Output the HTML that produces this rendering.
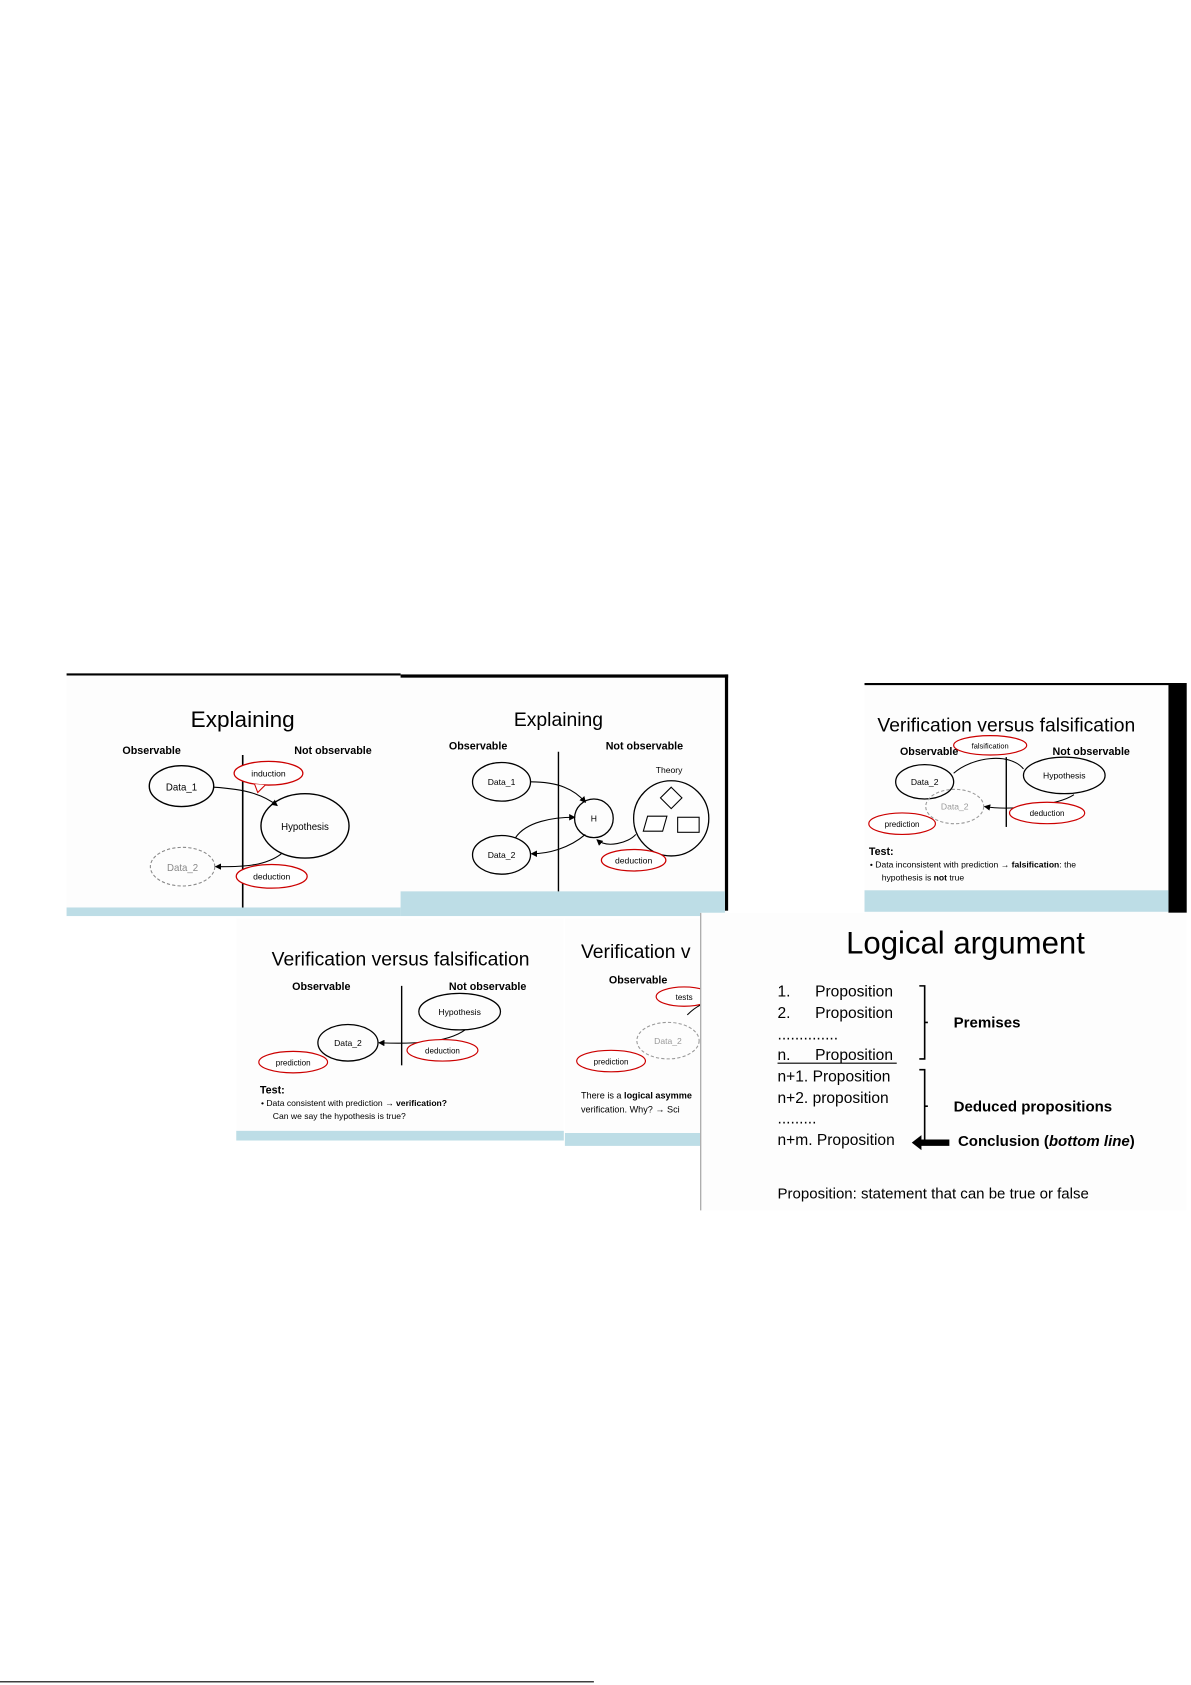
<!DOCTYPE html>
<html><head><meta charset="utf-8"><style>
html,body{margin:0;padding:0;background:#fff;}
svg{display:block;font-family:"Liberation Sans",sans-serif;}
.b{font-weight:bold;font-size:10px;}
.s{font-size:9px;}
.t{font-size:8px;}
</style></head><body>
<svg width="1191" height="1685" viewBox="0 0 1109 1569" preserveAspectRatio="none" xmlns="http://www.w3.org/2000/svg">
<defs><marker id="a" markerWidth="6" markerHeight="6" refX="5" refY="3" orient="auto"><path d="M0,0 L6,3 L0,6z" fill="#000"/></marker></defs>
<rect width="1109" height="1569" fill="#fff"/>

<!-- Slide A -->
<rect x="62" y="627" width="311" height="226" fill="#fdfdfd"/>
<line x1="62" y1="628" x2="373" y2="628" stroke="#000" stroke-width="2"/>
<rect x="62" y="845" width="311" height="8" fill="#bddde6"/>
<text x="226" y="677" font-size="21" text-anchor="middle">Explaining</text>
<text x="114" y="702" class="b">Observable</text>
<text x="274" y="702" class="b">Not observable</text>
<line x1="226" y1="703" x2="226" y2="845" stroke="#000" stroke-width="1.5"/>
<ellipse cx="169" cy="732" rx="30" ry="19" fill="none" stroke="#000" stroke-width="1.3"/>
<text x="169" y="736" class="s" text-anchor="middle">Data_1</text>
<ellipse cx="284" cy="769" rx="41" ry="30" fill="none" stroke="#000" stroke-width="1.3"/>
<text x="284" y="773" class="s" text-anchor="middle">Hypothesis</text>
<ellipse cx="170" cy="807" rx="30" ry="18" fill="none" stroke="#888" stroke-dasharray="3,2"/>
<text x="170" y="811" class="s" fill="#888" text-anchor="middle">Data_2</text>
<path d="M199,733 C230,735 245,740 258,750" fill="none" stroke="#000" marker-end="url(#a)"/>
<path d="M262,795 C245,808 220,807 201,807" fill="none" stroke="#000" marker-end="url(#a)"/>
<ellipse cx="250" cy="720" rx="32" ry="11" fill="#fff" stroke="#c00" stroke-width="1.2"/>
<path d="M237,730 L240,738 L247,731" fill="#fff" stroke="#c00"/>
<text x="250" y="723" class="t" text-anchor="middle">induction</text>
<ellipse cx="253" cy="816" rx="33" ry="11" fill="#fff" stroke="#c00" stroke-width="1.2"/>
<text x="253" y="819" class="t" text-anchor="middle">deduction</text>

<!-- Slide B -->
<rect x="373" y="628" width="304" height="225" fill="#fdfdfd"/>
<rect x="373" y="628" width="305" height="3" fill="#000"/>
<rect x="675" y="628" width="3" height="220" fill="#000"/>
<rect x="373" y="830" width="302" height="23" fill="#bddde6"/>
<text x="520" y="676" font-size="18" text-anchor="middle">Explaining</text>
<text x="418" y="698" class="b" font-size="9">Observable</text>
<text x="564" y="698" class="b" font-size="9">Not observable</text>
<line x1="520" y1="700" x2="520" y2="830" stroke="#000" stroke-width="1.3"/>
<ellipse cx="467" cy="728" rx="27" ry="18" fill="none" stroke="#000" stroke-width="1.2"/>
<text x="467" y="731" class="t" text-anchor="middle">Data_1</text>
<ellipse cx="467" cy="796" rx="27" ry="18" fill="none" stroke="#000" stroke-width="1.2"/>
<text x="467" y="799" class="t" text-anchor="middle">Data_2</text>
<circle cx="553" cy="762" r="18" fill="none" stroke="#000" stroke-width="1.2"/>
<text x="553" y="765" class="t" text-anchor="middle">H</text>
<path d="M494,728 C520,728 535,735 545,747" fill="none" stroke="#000" marker-end="url(#a)"/>
<path d="M480,780 C490,765 515,761 535,761" fill="none" stroke="#000" marker-end="url(#a)"/>
<path d="M545,777 C530,790 510,795 495,795" fill="none" stroke="#000" marker-end="url(#a)"/>
<text x="623" y="720" class="t" text-anchor="middle">Theory</text>
<ellipse cx="625" cy="762" rx="35" ry="35" fill="none" stroke="#000" stroke-width="1.2"/>
<path d="M625,733 L635,743 L625,753 L615,743z" fill="#fff" stroke="#000"/>
<path d="M603,760 L621,760 L617,774 L599,774z" fill="#fff" stroke="#000"/>
<rect x="631" y="761" width="20" height="14" fill="#fff" stroke="#000"/>
<path d="M592,777 C585,785 565,790 556,782" fill="none" stroke="#000" marker-end="url(#a)"/>
<ellipse cx="590" cy="801" rx="30" ry="10" fill="#fff" stroke="#c00" stroke-width="1.2"/>
<text x="590" y="804" class="t" text-anchor="middle">deduction</text>

<!-- Slide C -->
<rect x="805" y="636" width="300" height="214" fill="#fdfdfd"/>
<line x1="805" y1="637" x2="1100" y2="637" stroke="#000" stroke-width="2"/>
<rect x="1088" y="636" width="17" height="214" fill="#000"/>
<rect x="805" y="829" width="283" height="20" fill="#bddde6"/>
<text x="937" y="681" font-size="18" text-anchor="middle">Verification versus falsification</text>
<text x="838" y="703" class="b" font-size="9">Observable</text>
<text x="980" y="703" class="b" font-size="9">Not observable</text>
<line x1="937" y1="705" x2="937" y2="770" stroke="#000" stroke-width="1.3"/>
<ellipse cx="861" cy="728" rx="27" ry="16" fill="none" stroke="#000" stroke-width="1.2"/>
<text x="861" y="731" class="t" text-anchor="middle">Data_2</text>
<ellipse cx="991" cy="722" rx="38" ry="17" fill="none" stroke="#000" stroke-width="1.2"/>
<text x="991" y="725" class="t" text-anchor="middle">Hypothesis</text>
<ellipse cx="889" cy="751" rx="27" ry="16" fill="none" stroke="#999" stroke-dasharray="3,2"/>
<text x="889" y="754" class="t" fill="#999" text-anchor="middle">Data_2</text>
<path d="M888,720 C905,705 940,700 953,716" fill="none" stroke="#000"/>
<path d="M1000,740 C985,750 940,755 917,751" fill="none" stroke="#000" marker-end="url(#a)"/>
<ellipse cx="922" cy="694" rx="34" ry="9" fill="#fff" stroke="#c00" stroke-width="1.1"/>
<text x="922" y="697" font-size="7" text-anchor="middle">falsification</text>
<ellipse cx="975" cy="757" rx="35" ry="10" fill="#fff" stroke="#c00" stroke-width="1.1"/>
<text x="975" y="760" font-size="7.5" text-anchor="middle">deduction</text>
<ellipse cx="840" cy="767" rx="31" ry="10" fill="#fff" stroke="#c00" stroke-width="1.1"/>
<text x="840" y="770" font-size="7.5" text-anchor="middle">prediction</text>
<text x="809" y="796" class="b" font-size="8.5">Test:</text>
<text x="810" y="808" font-size="8">•  Data inconsistent with prediction → <tspan font-weight="bold">falsification</tspan>: the</text>
<text x="821" y="820" font-size="8">hypothesis is <tspan font-weight="bold">not</tspan> true</text>

<!-- Slide D -->
<rect x="220" y="855" width="305" height="207" fill="#fdfdfd"/>
<rect x="220" y="1053" width="305" height="9" fill="#bddde6"/>
<text x="373" y="899" font-size="18" text-anchor="middle">Verification versus falsification</text>
<text x="272" y="922" class="b" font-size="9">Observable</text>
<text x="418" y="922" class="b" font-size="9">Not observable</text>
<line x1="374" y1="918" x2="374" y2="992" stroke="#000" stroke-width="1.3"/>
<ellipse cx="428" cy="942" rx="38" ry="17" fill="none" stroke="#000" stroke-width="1.2"/>
<text x="428" y="945" class="t" text-anchor="middle">Hypothesis</text>
<ellipse cx="324" cy="971" rx="28" ry="17" fill="none" stroke="#000" stroke-width="1.2"/>
<text x="324" y="974" class="t" text-anchor="middle">Data_2</text>
<path d="M433,959 C415,972 380,972 353,971" fill="none" stroke="#000" marker-end="url(#a)"/>
<ellipse cx="412" cy="978" rx="33" ry="10" fill="#fff" stroke="#c00" stroke-width="1.1"/>
<text x="412" y="981" font-size="7.5" text-anchor="middle">deduction</text>
<ellipse cx="273" cy="989" rx="32" ry="10" fill="#fff" stroke="#c00" stroke-width="1.1"/>
<text x="273" y="992" font-size="7.5" text-anchor="middle">prediction</text>
<text x="242" y="1018" class="b" font-size="8.5">Test:</text>
<text x="243" y="1030" font-size="8">•  Data consistent with prediction → <tspan font-weight="bold">verification?</tspan></text>
<text x="254" y="1042" font-size="8">Can we say the hypothesis is true?</text>

<!-- Slide E -->
<rect x="526" y="855" width="126" height="212" fill="#fdfdfd"/>
<rect x="526" y="1055" width="126" height="12" fill="#bddde6"/>
<text x="541" y="892" font-size="18">Verification v</text>
<text x="567" y="916" class="b" font-size="9">Observable</text>
<ellipse cx="637" cy="928" rx="26" ry="9" fill="#fff" stroke="#c00" stroke-width="1.1"/>
<text x="637" y="931" font-size="7.5" text-anchor="middle">tests</text>
<path d="M640,945 C645,940 650,937 652,936" fill="none" stroke="#000"/>
<ellipse cx="622" cy="969" rx="29" ry="17" fill="none" stroke="#999" stroke-dasharray="3,2"/>
<text x="622" y="972" class="t" fill="#999" text-anchor="middle">Data_2</text>
<ellipse cx="569" cy="988" rx="32" ry="10" fill="#fff" stroke="#c00" stroke-width="1.1"/>
<text x="569" y="991" font-size="7.5" text-anchor="middle">prediction</text>
<text x="541" y="1023" font-size="8.5">There is a <tspan font-weight="bold">logical asymme</tspan></text>
<text x="541" y="1036" font-size="8.5">verification. Why?  → Sci</text>
<rect x="652" y="850" width="457" height="280" fill="#fff"/>

<!-- Slide F -->
<rect x="652" y="850" width="453" height="277" fill="#fdfdfd"/>
<line x1="652.5" y1="850" x2="652.5" y2="1127" stroke="#999" stroke-width="1"/>
<text x="899" y="888" font-size="29" text-anchor="middle">Logical argument</text>
<g font-size="14.5">
<text x="724" y="928">1.</text><text x="759" y="928">Proposition</text>
<text x="724" y="948">2.</text><text x="759" y="948">Proposition</text>
<text x="724" y="968">..............</text>
<text x="724" y="987">n.</text><text x="759" y="987">Proposition</text>
<line x1="724" y1="990" x2="835" y2="990" stroke="#000"/>
<text x="724" y="1007">n+1.  Proposition</text>
<text x="724" y="1027">n+2.  proposition</text>
<text x="724" y="1046">.........</text>
<text x="724" y="1066">n+m. Proposition</text>
<text x="724" y="1116" font-size="14">Proposition: statement that can be true or false</text>
</g>
<path d="M856,918 H861 V986 H856 M861,952 H864" fill="none" stroke="#000" stroke-width="1.5"/>
<path d="M856,996 H861 V1063 M861,1030 H864" fill="none" stroke="#000" stroke-width="1.5"/>
<path d="M884,1061 H858 V1057 L849,1064 L858,1071 V1067 H884z" fill="#000"/>
<text x="888" y="957" font-size="14" font-weight="bold">Premises</text>
<text x="888" y="1035" font-size="14" font-weight="bold">Deduced propositions</text>
<text x="892" y="1067" font-size="14" font-weight="bold">Conclusion (<tspan font-style="italic">bottom line</tspan>)</text>

<line x1="0" y1="1566" x2="553" y2="1566" stroke="#000" stroke-width="1"/>
</svg>
</body></html>
